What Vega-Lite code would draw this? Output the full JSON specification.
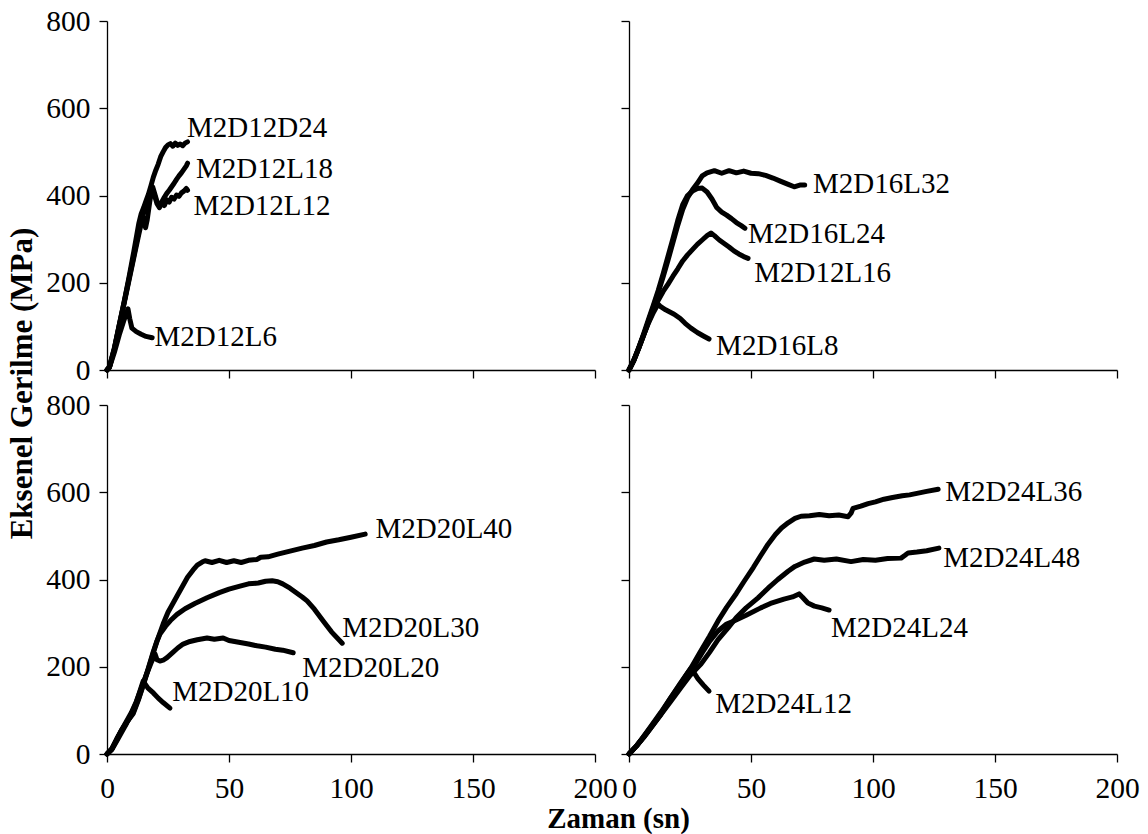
{
  "$schema": "https://vega.github.io/schema/vega-lite/v6.json",
  "padding": {"left": 6, "top": 6, "right": 5, "bottom": 5},
  "background": "white",
  "config": {
    "view": {"stroke": null},
    "axis": {
      "grid": false,
      "domainColor": "#000",
      "domainWidth": 1.3,
      "tickColor": "#000",
      "tickWidth": 1.3,
      "tickSize": 8,
      "labelFont": "Liberation Serif",
      "labelFontSize": 29.5,
      "labelColor": "#000",
      "labelFlush": false,
      "labelOverlap": false,
      "titleFont": "Liberation Serif",
      "titleFontWeight": "bold",
      "titleColor": "#000"
    }
  },
  "datasets": {
    "curves": [
      {"panel": "a", "series": "M2D12D24", "t": 0, "s": 0},
      {"panel": "a", "series": "M2D12D24", "t": 1, "s": 6},
      {"panel": "a", "series": "M2D12D24", "t": 3, "s": 48},
      {"panel": "a", "series": "M2D12D24", "t": 5, "s": 102},
      {"panel": "a", "series": "M2D12D24", "t": 7, "s": 155},
      {"panel": "a", "series": "M2D12D24", "t": 9, "s": 212},
      {"panel": "a", "series": "M2D12D24", "t": 11, "s": 272},
      {"panel": "a", "series": "M2D12D24", "t": 13, "s": 335},
      {"panel": "a", "series": "M2D12D24", "t": 14, "s": 358},
      {"panel": "a", "series": "M2D12D24", "t": 15, "s": 372},
      {"panel": "a", "series": "M2D12D24", "t": 16, "s": 388},
      {"panel": "a", "series": "M2D12D24", "t": 17, "s": 403},
      {"panel": "a", "series": "M2D12D24", "t": 18, "s": 422},
      {"panel": "a", "series": "M2D12D24", "t": 19, "s": 442},
      {"panel": "a", "series": "M2D12D24", "t": 20, "s": 458},
      {"panel": "a", "series": "M2D12D24", "t": 21, "s": 472},
      {"panel": "a", "series": "M2D12D24", "t": 22, "s": 489},
      {"panel": "a", "series": "M2D12D24", "t": 23, "s": 500},
      {"panel": "a", "series": "M2D12D24", "t": 24, "s": 510},
      {"panel": "a", "series": "M2D12D24", "t": 25, "s": 516},
      {"panel": "a", "series": "M2D12D24", "t": 26, "s": 519},
      {"panel": "a", "series": "M2D12D24", "t": 27, "s": 513},
      {"panel": "a", "series": "M2D12D24", "t": 28, "s": 520},
      {"panel": "a", "series": "M2D12D24", "t": 29, "s": 515},
      {"panel": "a", "series": "M2D12D24", "t": 30, "s": 518},
      {"panel": "a", "series": "M2D12D24", "t": 31, "s": 514},
      {"panel": "a", "series": "M2D12D24", "t": 32, "s": 520},
      {"panel": "a", "series": "M2D12D24", "t": 33, "s": 523},

      {"panel": "a", "series": "M2D12L18", "t": 0, "s": 0},
      {"panel": "a", "series": "M2D12L18", "t": 1, "s": 8},
      {"panel": "a", "series": "M2D12L18", "t": 3, "s": 50},
      {"panel": "a", "series": "M2D12L18", "t": 5, "s": 103},
      {"panel": "a", "series": "M2D12L18", "t": 7, "s": 155},
      {"panel": "a", "series": "M2D12L18", "t": 9, "s": 208},
      {"panel": "a", "series": "M2D12L18", "t": 11, "s": 262},
      {"panel": "a", "series": "M2D12L18", "t": 13, "s": 318},
      {"panel": "a", "series": "M2D12L18", "t": 14, "s": 343},
      {"panel": "a", "series": "M2D12L18", "t": 15, "s": 360},
      {"panel": "a", "series": "M2D12L18", "t": 16, "s": 378},
      {"panel": "a", "series": "M2D12L18", "t": 17, "s": 395},
      {"panel": "a", "series": "M2D12L18", "t": 18, "s": 410},
      {"panel": "a", "series": "M2D12L18", "t": 18.7, "s": 420},
      {"panel": "a", "series": "M2D12L18", "t": 19.5, "s": 405},
      {"panel": "a", "series": "M2D12L18", "t": 20.5, "s": 386},
      {"panel": "a", "series": "M2D12L18", "t": 21.5, "s": 376},
      {"panel": "a", "series": "M2D12L18", "t": 22.5, "s": 386},
      {"panel": "a", "series": "M2D12L18", "t": 23.5, "s": 396},
      {"panel": "a", "series": "M2D12L18", "t": 24.5, "s": 405},
      {"panel": "a", "series": "M2D12L18", "t": 25.5, "s": 412},
      {"panel": "a", "series": "M2D12L18", "t": 26.5, "s": 420},
      {"panel": "a", "series": "M2D12L18", "t": 27.5, "s": 428},
      {"panel": "a", "series": "M2D12L18", "t": 28.5, "s": 437},
      {"panel": "a", "series": "M2D12L18", "t": 29.5, "s": 445},
      {"panel": "a", "series": "M2D12L18", "t": 30.5, "s": 452},
      {"panel": "a", "series": "M2D12L18", "t": 31.5, "s": 460},
      {"panel": "a", "series": "M2D12L18", "t": 32.5, "s": 468},
      {"panel": "a", "series": "M2D12L18", "t": 33, "s": 474},

      {"panel": "a", "series": "M2D12L12", "t": 0, "s": 0},
      {"panel": "a", "series": "M2D12L12", "t": 1, "s": 6},
      {"panel": "a", "series": "M2D12L12", "t": 3, "s": 48},
      {"panel": "a", "series": "M2D12L12", "t": 5, "s": 100},
      {"panel": "a", "series": "M2D12L12", "t": 7, "s": 152},
      {"panel": "a", "series": "M2D12L12", "t": 9, "s": 205},
      {"panel": "a", "series": "M2D12L12", "t": 11, "s": 258},
      {"panel": "a", "series": "M2D12L12", "t": 13, "s": 310},
      {"panel": "a", "series": "M2D12L12", "t": 14, "s": 335},
      {"panel": "a", "series": "M2D12L12", "t": 15, "s": 348},
      {"panel": "a", "series": "M2D12L12", "t": 15.8, "s": 326},
      {"panel": "a", "series": "M2D12L12", "t": 16.5, "s": 345},
      {"panel": "a", "series": "M2D12L12", "t": 17.5, "s": 385},
      {"panel": "a", "series": "M2D12L12", "t": 18.5, "s": 418},
      {"panel": "a", "series": "M2D12L12", "t": 19.5, "s": 400},
      {"panel": "a", "series": "M2D12L12", "t": 20.5, "s": 381},
      {"panel": "a", "series": "M2D12L12", "t": 21.5, "s": 372},
      {"panel": "a", "series": "M2D12L12", "t": 22.5, "s": 383},
      {"panel": "a", "series": "M2D12L12", "t": 23.5, "s": 377},
      {"panel": "a", "series": "M2D12L12", "t": 24.5, "s": 390},
      {"panel": "a", "series": "M2D12L12", "t": 25.5, "s": 385},
      {"panel": "a", "series": "M2D12L12", "t": 26.5, "s": 396},
      {"panel": "a", "series": "M2D12L12", "t": 27.5, "s": 392},
      {"panel": "a", "series": "M2D12L12", "t": 28.5, "s": 401},
      {"panel": "a", "series": "M2D12L12", "t": 29.5, "s": 398},
      {"panel": "a", "series": "M2D12L12", "t": 30.5, "s": 406},
      {"panel": "a", "series": "M2D12L12", "t": 31.5, "s": 410},
      {"panel": "a", "series": "M2D12L12", "t": 32.5, "s": 416},
      {"panel": "a", "series": "M2D12L12", "t": 33, "s": 412},

      {"panel": "a", "series": "M2D12L6", "t": 0, "s": 0},
      {"panel": "a", "series": "M2D12L6", "t": 1, "s": 6},
      {"panel": "a", "series": "M2D12L6", "t": 3, "s": 40},
      {"panel": "a", "series": "M2D12L6", "t": 5, "s": 80},
      {"panel": "a", "series": "M2D12L6", "t": 7, "s": 115},
      {"panel": "a", "series": "M2D12L6", "t": 8.6, "s": 140},
      {"panel": "a", "series": "M2D12L6", "t": 9.3, "s": 118},
      {"panel": "a", "series": "M2D12L6", "t": 10.2, "s": 96},
      {"panel": "a", "series": "M2D12L6", "t": 12, "s": 88},
      {"panel": "a", "series": "M2D12L6", "t": 14, "s": 82},
      {"panel": "a", "series": "M2D12L6", "t": 16, "s": 77},
      {"panel": "a", "series": "M2D12L6", "t": 18.5, "s": 74},

      {"panel": "b", "series": "M2D16L32", "t": 0, "s": 0},
      {"panel": "b", "series": "M2D16L32", "t": 2, "s": 22},
      {"panel": "b", "series": "M2D16L32", "t": 4, "s": 50},
      {"panel": "b", "series": "M2D16L32", "t": 6, "s": 80},
      {"panel": "b", "series": "M2D16L32", "t": 8, "s": 112},
      {"panel": "b", "series": "M2D16L32", "t": 10, "s": 145},
      {"panel": "b", "series": "M2D16L32", "t": 12, "s": 178},
      {"panel": "b", "series": "M2D16L32", "t": 14, "s": 214},
      {"panel": "b", "series": "M2D16L32", "t": 16, "s": 252},
      {"panel": "b", "series": "M2D16L32", "t": 18, "s": 292},
      {"panel": "b", "series": "M2D16L32", "t": 20, "s": 332},
      {"panel": "b", "series": "M2D16L32", "t": 22, "s": 368},
      {"panel": "b", "series": "M2D16L32", "t": 24, "s": 395},
      {"panel": "b", "series": "M2D16L32", "t": 26, "s": 413},
      {"panel": "b", "series": "M2D16L32", "t": 28, "s": 428},
      {"panel": "b", "series": "M2D16L32", "t": 30, "s": 445},
      {"panel": "b", "series": "M2D16L32", "t": 32, "s": 452},
      {"panel": "b", "series": "M2D16L32", "t": 35, "s": 457},
      {"panel": "b", "series": "M2D16L32", "t": 38, "s": 451},
      {"panel": "b", "series": "M2D16L32", "t": 41, "s": 457},
      {"panel": "b", "series": "M2D16L32", "t": 44, "s": 452},
      {"panel": "b", "series": "M2D16L32", "t": 47, "s": 456},
      {"panel": "b", "series": "M2D16L32", "t": 50, "s": 451},
      {"panel": "b", "series": "M2D16L32", "t": 53, "s": 450},
      {"panel": "b", "series": "M2D16L32", "t": 56, "s": 446},
      {"panel": "b", "series": "M2D16L32", "t": 59, "s": 440},
      {"panel": "b", "series": "M2D16L32", "t": 62, "s": 433},
      {"panel": "b", "series": "M2D16L32", "t": 65, "s": 426},
      {"panel": "b", "series": "M2D16L32", "t": 67.7, "s": 420},
      {"panel": "b", "series": "M2D16L32", "t": 70, "s": 424},
      {"panel": "b", "series": "M2D16L32", "t": 72, "s": 424},

      {"panel": "b", "series": "M2D16L24", "t": 0, "s": 0},
      {"panel": "b", "series": "M2D16L24", "t": 2, "s": 23},
      {"panel": "b", "series": "M2D16L24", "t": 4, "s": 52},
      {"panel": "b", "series": "M2D16L24", "t": 6, "s": 83},
      {"panel": "b", "series": "M2D16L24", "t": 8, "s": 116},
      {"panel": "b", "series": "M2D16L24", "t": 10, "s": 149},
      {"panel": "b", "series": "M2D16L24", "t": 12, "s": 183},
      {"panel": "b", "series": "M2D16L24", "t": 14, "s": 221},
      {"panel": "b", "series": "M2D16L24", "t": 16, "s": 261},
      {"panel": "b", "series": "M2D16L24", "t": 18, "s": 301},
      {"panel": "b", "series": "M2D16L24", "t": 20, "s": 343},
      {"panel": "b", "series": "M2D16L24", "t": 22, "s": 379},
      {"panel": "b", "series": "M2D16L24", "t": 24, "s": 400},
      {"panel": "b", "series": "M2D16L24", "t": 26, "s": 410},
      {"panel": "b", "series": "M2D16L24", "t": 28, "s": 416},
      {"panel": "b", "series": "M2D16L24", "t": 30, "s": 417},
      {"panel": "b", "series": "M2D16L24", "t": 32, "s": 408},
      {"panel": "b", "series": "M2D16L24", "t": 34, "s": 392},
      {"panel": "b", "series": "M2D16L24", "t": 36, "s": 372},
      {"panel": "b", "series": "M2D16L24", "t": 38, "s": 362},
      {"panel": "b", "series": "M2D16L24", "t": 40, "s": 355},
      {"panel": "b", "series": "M2D16L24", "t": 42, "s": 347},
      {"panel": "b", "series": "M2D16L24", "t": 44, "s": 338},
      {"panel": "b", "series": "M2D16L24", "t": 46, "s": 331},
      {"panel": "b", "series": "M2D16L24", "t": 47.5, "s": 325},

      {"panel": "b", "series": "M2D12L16", "t": 0, "s": 0},
      {"panel": "b", "series": "M2D12L16", "t": 2, "s": 22},
      {"panel": "b", "series": "M2D12L16", "t": 4, "s": 50},
      {"panel": "b", "series": "M2D12L16", "t": 6, "s": 80},
      {"panel": "b", "series": "M2D12L16", "t": 8, "s": 110},
      {"panel": "b", "series": "M2D12L16", "t": 10, "s": 138},
      {"panel": "b", "series": "M2D12L16", "t": 12, "s": 160},
      {"panel": "b", "series": "M2D12L16", "t": 14, "s": 180},
      {"panel": "b", "series": "M2D12L16", "t": 16, "s": 197},
      {"panel": "b", "series": "M2D12L16", "t": 18, "s": 215},
      {"panel": "b", "series": "M2D12L16", "t": 20, "s": 232},
      {"panel": "b", "series": "M2D12L16", "t": 22, "s": 250},
      {"panel": "b", "series": "M2D12L16", "t": 24, "s": 264},
      {"panel": "b", "series": "M2D12L16", "t": 26, "s": 276},
      {"panel": "b", "series": "M2D12L16", "t": 28, "s": 288},
      {"panel": "b", "series": "M2D12L16", "t": 30, "s": 298},
      {"panel": "b", "series": "M2D12L16", "t": 32, "s": 308},
      {"panel": "b", "series": "M2D12L16", "t": 33.6, "s": 314},
      {"panel": "b", "series": "M2D12L16", "t": 35, "s": 308},
      {"panel": "b", "series": "M2D12L16", "t": 37, "s": 298},
      {"panel": "b", "series": "M2D12L16", "t": 39, "s": 290},
      {"panel": "b", "series": "M2D12L16", "t": 41, "s": 282},
      {"panel": "b", "series": "M2D12L16", "t": 43, "s": 273},
      {"panel": "b", "series": "M2D12L16", "t": 45, "s": 266},
      {"panel": "b", "series": "M2D12L16", "t": 47, "s": 260},
      {"panel": "b", "series": "M2D12L16", "t": 48.8, "s": 256},

      {"panel": "b", "series": "M2D16L8", "t": 0, "s": 0},
      {"panel": "b", "series": "M2D16L8", "t": 2, "s": 22},
      {"panel": "b", "series": "M2D16L8", "t": 4, "s": 50},
      {"panel": "b", "series": "M2D16L8", "t": 6, "s": 80},
      {"panel": "b", "series": "M2D16L8", "t": 8, "s": 108},
      {"panel": "b", "series": "M2D16L8", "t": 10, "s": 132},
      {"panel": "b", "series": "M2D16L8", "t": 11.9, "s": 151},
      {"panel": "b", "series": "M2D16L8", "t": 13, "s": 145},
      {"panel": "b", "series": "M2D16L8", "t": 15, "s": 138},
      {"panel": "b", "series": "M2D16L8", "t": 18.5, "s": 128},
      {"panel": "b", "series": "M2D16L8", "t": 21, "s": 118},
      {"panel": "b", "series": "M2D16L8", "t": 23, "s": 107},
      {"panel": "b", "series": "M2D16L8", "t": 25.4, "s": 96},
      {"panel": "b", "series": "M2D16L8", "t": 28, "s": 86},
      {"panel": "b", "series": "M2D16L8", "t": 30.5, "s": 78},
      {"panel": "b", "series": "M2D16L8", "t": 32.8, "s": 71},

      {"panel": "c", "series": "M2D20L40", "t": 0, "s": 0},
      {"panel": "c", "series": "M2D20L40", "t": 2, "s": 12},
      {"panel": "c", "series": "M2D20L40", "t": 4, "s": 35},
      {"panel": "c", "series": "M2D20L40", "t": 6, "s": 55},
      {"panel": "c", "series": "M2D20L40", "t": 8, "s": 72},
      {"panel": "c", "series": "M2D20L40", "t": 10.7, "s": 92},
      {"panel": "c", "series": "M2D20L40", "t": 13, "s": 126},
      {"panel": "c", "series": "M2D20L40", "t": 15, "s": 160},
      {"panel": "c", "series": "M2D20L40", "t": 17, "s": 196},
      {"panel": "c", "series": "M2D20L40", "t": 19, "s": 232},
      {"panel": "c", "series": "M2D20L40", "t": 20.5, "s": 259},
      {"panel": "c", "series": "M2D20L40", "t": 23, "s": 298},
      {"panel": "c", "series": "M2D20L40", "t": 25, "s": 325},
      {"panel": "c", "series": "M2D20L40", "t": 27, "s": 345},
      {"panel": "c", "series": "M2D20L40", "t": 28.7, "s": 362},
      {"panel": "c", "series": "M2D20L40", "t": 31, "s": 385},
      {"panel": "c", "series": "M2D20L40", "t": 33, "s": 405},
      {"panel": "c", "series": "M2D20L40", "t": 35.3, "s": 422},
      {"panel": "c", "series": "M2D20L40", "t": 37, "s": 433},
      {"panel": "c", "series": "M2D20L40", "t": 39, "s": 440},
      {"panel": "c", "series": "M2D20L40", "t": 40.2, "s": 443},
      {"panel": "c", "series": "M2D20L40", "t": 43, "s": 439},
      {"panel": "c", "series": "M2D20L40", "t": 46, "s": 444},
      {"panel": "c", "series": "M2D20L40", "t": 49, "s": 439},
      {"panel": "c", "series": "M2D20L40", "t": 52, "s": 443},
      {"panel": "c", "series": "M2D20L40", "t": 55, "s": 439},
      {"panel": "c", "series": "M2D20L40", "t": 58, "s": 444},
      {"panel": "c", "series": "M2D20L40", "t": 61.5, "s": 446},
      {"panel": "c", "series": "M2D20L40", "t": 63, "s": 451},
      {"panel": "c", "series": "M2D20L40", "t": 66, "s": 452},
      {"panel": "c", "series": "M2D20L40", "t": 70, "s": 458},
      {"panel": "c", "series": "M2D20L40", "t": 75, "s": 465},
      {"panel": "c", "series": "M2D20L40", "t": 80, "s": 472},
      {"panel": "c", "series": "M2D20L40", "t": 85, "s": 478},
      {"panel": "c", "series": "M2D20L40", "t": 90, "s": 486},
      {"panel": "c", "series": "M2D20L40", "t": 95, "s": 491},
      {"panel": "c", "series": "M2D20L40", "t": 100, "s": 497},
      {"panel": "c", "series": "M2D20L40", "t": 105.8, "s": 504},

      {"panel": "c", "series": "M2D20L30", "t": 0, "s": 0},
      {"panel": "c", "series": "M2D20L30", "t": 2, "s": 11},
      {"panel": "c", "series": "M2D20L30", "t": 4, "s": 33},
      {"panel": "c", "series": "M2D20L30", "t": 6, "s": 54},
      {"panel": "c", "series": "M2D20L30", "t": 8, "s": 72},
      {"panel": "c", "series": "M2D20L30", "t": 10.7, "s": 95},
      {"panel": "c", "series": "M2D20L30", "t": 13, "s": 128},
      {"panel": "c", "series": "M2D20L30", "t": 15, "s": 162},
      {"panel": "c", "series": "M2D20L30", "t": 17, "s": 198},
      {"panel": "c", "series": "M2D20L30", "t": 19, "s": 235},
      {"panel": "c", "series": "M2D20L30", "t": 20.3, "s": 256},
      {"panel": "c", "series": "M2D20L30", "t": 21.7, "s": 275},
      {"panel": "c", "series": "M2D20L30", "t": 24, "s": 293},
      {"panel": "c", "series": "M2D20L30", "t": 26, "s": 306},
      {"panel": "c", "series": "M2D20L30", "t": 28.7, "s": 320},
      {"panel": "c", "series": "M2D20L30", "t": 32, "s": 333},
      {"panel": "c", "series": "M2D20L30", "t": 36, "s": 345},
      {"panel": "c", "series": "M2D20L30", "t": 41, "s": 358},
      {"panel": "c", "series": "M2D20L30", "t": 46, "s": 370},
      {"panel": "c", "series": "M2D20L30", "t": 50, "s": 378},
      {"panel": "c", "series": "M2D20L30", "t": 54.5, "s": 385},
      {"panel": "c", "series": "M2D20L30", "t": 58, "s": 390},
      {"panel": "c", "series": "M2D20L30", "t": 62, "s": 392},
      {"panel": "c", "series": "M2D20L30", "t": 65, "s": 396},
      {"panel": "c", "series": "M2D20L30", "t": 67.7, "s": 397},
      {"panel": "c", "series": "M2D20L30", "t": 70, "s": 395},
      {"panel": "c", "series": "M2D20L30", "t": 72, "s": 390},
      {"panel": "c", "series": "M2D20L30", "t": 75, "s": 380},
      {"panel": "c", "series": "M2D20L30", "t": 78, "s": 368},
      {"panel": "c", "series": "M2D20L30", "t": 80, "s": 360},
      {"panel": "c", "series": "M2D20L30", "t": 82, "s": 351},
      {"panel": "c", "series": "M2D20L30", "t": 85, "s": 332},
      {"panel": "c", "series": "M2D20L30", "t": 88.6, "s": 305},
      {"panel": "c", "series": "M2D20L30", "t": 92, "s": 280},
      {"panel": "c", "series": "M2D20L30", "t": 96.4, "s": 254},

      {"panel": "c", "series": "M2D20L20", "t": 0, "s": 0},
      {"panel": "c", "series": "M2D20L20", "t": 2, "s": 12},
      {"panel": "c", "series": "M2D20L20", "t": 4, "s": 33},
      {"panel": "c", "series": "M2D20L20", "t": 6, "s": 55},
      {"panel": "c", "series": "M2D20L20", "t": 8, "s": 75},
      {"panel": "c", "series": "M2D20L20", "t": 10, "s": 95},
      {"panel": "c", "series": "M2D20L20", "t": 12, "s": 120},
      {"panel": "c", "series": "M2D20L20", "t": 14, "s": 150},
      {"panel": "c", "series": "M2D20L20", "t": 16, "s": 180},
      {"panel": "c", "series": "M2D20L20", "t": 18, "s": 208},
      {"panel": "c", "series": "M2D20L20", "t": 19.7, "s": 229},
      {"panel": "c", "series": "M2D20L20", "t": 20.5, "s": 216},
      {"panel": "c", "series": "M2D20L20", "t": 21.7, "s": 213},
      {"panel": "c", "series": "M2D20L20", "t": 23, "s": 215},
      {"panel": "c", "series": "M2D20L20", "t": 24.6, "s": 221},
      {"panel": "c", "series": "M2D20L20", "t": 27, "s": 233},
      {"panel": "c", "series": "M2D20L20", "t": 29, "s": 243},
      {"panel": "c", "series": "M2D20L20", "t": 31.2, "s": 252},
      {"panel": "c", "series": "M2D20L20", "t": 34, "s": 258},
      {"panel": "c", "series": "M2D20L20", "t": 37, "s": 262},
      {"panel": "c", "series": "M2D20L20", "t": 41, "s": 266},
      {"panel": "c", "series": "M2D20L20", "t": 44, "s": 263},
      {"panel": "c", "series": "M2D20L20", "t": 47.6, "s": 266},
      {"panel": "c", "series": "M2D20L20", "t": 50, "s": 260},
      {"panel": "c", "series": "M2D20L20", "t": 54, "s": 256},
      {"panel": "c", "series": "M2D20L20", "t": 58, "s": 252},
      {"panel": "c", "series": "M2D20L20", "t": 61.5, "s": 248},
      {"panel": "c", "series": "M2D20L20", "t": 65, "s": 245},
      {"panel": "c", "series": "M2D20L20", "t": 69, "s": 240},
      {"panel": "c", "series": "M2D20L20", "t": 72, "s": 238},
      {"panel": "c", "series": "M2D20L20", "t": 76.3, "s": 232},

      {"panel": "c", "series": "M2D20L10", "t": 0, "s": 0},
      {"panel": "c", "series": "M2D20L10", "t": 2, "s": 10},
      {"panel": "c", "series": "M2D20L10", "t": 4, "s": 30},
      {"panel": "c", "series": "M2D20L10", "t": 6, "s": 50},
      {"panel": "c", "series": "M2D20L10", "t": 8, "s": 70},
      {"panel": "c", "series": "M2D20L10", "t": 10, "s": 92},
      {"panel": "c", "series": "M2D20L10", "t": 12, "s": 118},
      {"panel": "c", "series": "M2D20L10", "t": 14.8, "s": 167},
      {"panel": "c", "series": "M2D20L10", "t": 16.8, "s": 151},
      {"panel": "c", "series": "M2D20L10", "t": 19, "s": 140},
      {"panel": "c", "series": "M2D20L10", "t": 21, "s": 128},
      {"panel": "c", "series": "M2D20L10", "t": 23, "s": 118},
      {"panel": "c", "series": "M2D20L10", "t": 25.8, "s": 105},

      {"panel": "d", "series": "M2D24L36", "t": 0, "s": 0},
      {"panel": "d", "series": "M2D24L36", "t": 3, "s": 18},
      {"panel": "d", "series": "M2D24L36", "t": 6, "s": 40},
      {"panel": "d", "series": "M2D24L36", "t": 9, "s": 62},
      {"panel": "d", "series": "M2D24L36", "t": 13, "s": 92},
      {"panel": "d", "series": "M2D24L36", "t": 17, "s": 128},
      {"panel": "d", "series": "M2D24L36", "t": 21, "s": 160},
      {"panel": "d", "series": "M2D24L36", "t": 25.4, "s": 197},
      {"panel": "d", "series": "M2D24L36", "t": 29, "s": 232},
      {"panel": "d", "series": "M2D24L36", "t": 33, "s": 270},
      {"panel": "d", "series": "M2D24L36", "t": 36.5, "s": 305},
      {"panel": "d", "series": "M2D24L36", "t": 40, "s": 336},
      {"panel": "d", "series": "M2D24L36", "t": 44, "s": 368},
      {"panel": "d", "series": "M2D24L36", "t": 47.2, "s": 396},
      {"panel": "d", "series": "M2D24L36", "t": 51, "s": 428},
      {"panel": "d", "series": "M2D24L36", "t": 54, "s": 455},
      {"panel": "d", "series": "M2D24L36", "t": 57, "s": 481},
      {"panel": "d", "series": "M2D24L36", "t": 60, "s": 503},
      {"panel": "d", "series": "M2D24L36", "t": 62.5, "s": 518},
      {"panel": "d", "series": "M2D24L36", "t": 65.2, "s": 530},
      {"panel": "d", "series": "M2D24L36", "t": 68, "s": 540},
      {"panel": "d", "series": "M2D24L36", "t": 70.5, "s": 545},
      {"panel": "d", "series": "M2D24L36", "t": 74, "s": 546},
      {"panel": "d", "series": "M2D24L36", "t": 78, "s": 549},
      {"panel": "d", "series": "M2D24L36", "t": 82, "s": 546},
      {"panel": "d", "series": "M2D24L36", "t": 86, "s": 548},
      {"panel": "d", "series": "M2D24L36", "t": 89.8, "s": 544},
      {"panel": "d", "series": "M2D24L36", "t": 91, "s": 552},
      {"panel": "d", "series": "M2D24L36", "t": 91.8, "s": 563},
      {"panel": "d", "series": "M2D24L36", "t": 95, "s": 568},
      {"panel": "d", "series": "M2D24L36", "t": 98, "s": 574},
      {"panel": "d", "series": "M2D24L36", "t": 101, "s": 578},
      {"panel": "d", "series": "M2D24L36", "t": 104.5, "s": 584},
      {"panel": "d", "series": "M2D24L36", "t": 108, "s": 588},
      {"panel": "d", "series": "M2D24L36", "t": 112, "s": 592},
      {"panel": "d", "series": "M2D24L36", "t": 115, "s": 594},
      {"panel": "d", "series": "M2D24L36", "t": 118.5, "s": 598},
      {"panel": "d", "series": "M2D24L36", "t": 122, "s": 602},
      {"panel": "d", "series": "M2D24L36", "t": 126.7, "s": 607},

      {"panel": "d", "series": "M2D24L48", "t": 0, "s": 0},
      {"panel": "d", "series": "M2D24L48", "t": 3, "s": 18},
      {"panel": "d", "series": "M2D24L48", "t": 6, "s": 38},
      {"panel": "d", "series": "M2D24L48", "t": 9, "s": 60},
      {"panel": "d", "series": "M2D24L48", "t": 13, "s": 90},
      {"panel": "d", "series": "M2D24L48", "t": 17, "s": 120},
      {"panel": "d", "series": "M2D24L48", "t": 21, "s": 150},
      {"panel": "d", "series": "M2D24L48", "t": 25, "s": 180},
      {"panel": "d", "series": "M2D24L48", "t": 29.5, "s": 206},
      {"panel": "d", "series": "M2D24L48", "t": 33, "s": 233},
      {"panel": "d", "series": "M2D24L48", "t": 36.5, "s": 262},
      {"panel": "d", "series": "M2D24L48", "t": 40.6, "s": 289},
      {"panel": "d", "series": "M2D24L48", "t": 44, "s": 313},
      {"panel": "d", "series": "M2D24L48", "t": 48, "s": 335},
      {"panel": "d", "series": "M2D24L48", "t": 52.9, "s": 358},
      {"panel": "d", "series": "M2D24L48", "t": 57, "s": 380},
      {"panel": "d", "series": "M2D24L48", "t": 61, "s": 400},
      {"panel": "d", "series": "M2D24L48", "t": 65.2, "s": 419},
      {"panel": "d", "series": "M2D24L48", "t": 68, "s": 430},
      {"panel": "d", "series": "M2D24L48", "t": 72, "s": 440},
      {"panel": "d", "series": "M2D24L48", "t": 75.9, "s": 447},
      {"panel": "d", "series": "M2D24L48", "t": 80, "s": 444},
      {"panel": "d", "series": "M2D24L48", "t": 85, "s": 447},
      {"panel": "d", "series": "M2D24L48", "t": 91, "s": 441},
      {"panel": "d", "series": "M2D24L48", "t": 96, "s": 446},
      {"panel": "d", "series": "M2D24L48", "t": 101, "s": 444},
      {"panel": "d", "series": "M2D24L48", "t": 106, "s": 448},
      {"panel": "d", "series": "M2D24L48", "t": 111.5, "s": 449},
      {"panel": "d", "series": "M2D24L48", "t": 113, "s": 455},
      {"panel": "d", "series": "M2D24L48", "t": 114.4, "s": 461},
      {"panel": "d", "series": "M2D24L48", "t": 118, "s": 463},
      {"panel": "d", "series": "M2D24L48", "t": 122, "s": 466},
      {"panel": "d", "series": "M2D24L48", "t": 127, "s": 472},

      {"panel": "d", "series": "M2D24L24", "t": 0, "s": 0},
      {"panel": "d", "series": "M2D24L24", "t": 3, "s": 18},
      {"panel": "d", "series": "M2D24L24", "t": 6, "s": 38},
      {"panel": "d", "series": "M2D24L24", "t": 9, "s": 60},
      {"panel": "d", "series": "M2D24L24", "t": 13, "s": 90},
      {"panel": "d", "series": "M2D24L24", "t": 17, "s": 125},
      {"panel": "d", "series": "M2D24L24", "t": 21, "s": 158},
      {"panel": "d", "series": "M2D24L24", "t": 24, "s": 185},
      {"panel": "d", "series": "M2D24L24", "t": 26.7, "s": 202},
      {"panel": "d", "series": "M2D24L24", "t": 30, "s": 232},
      {"panel": "d", "series": "M2D24L24", "t": 33, "s": 258},
      {"panel": "d", "series": "M2D24L24", "t": 36.5, "s": 282},
      {"panel": "d", "series": "M2D24L24", "t": 40, "s": 298},
      {"panel": "d", "series": "M2D24L24", "t": 43, "s": 305},
      {"panel": "d", "series": "M2D24L24", "t": 48, "s": 318},
      {"panel": "d", "series": "M2D24L24", "t": 54, "s": 335},
      {"panel": "d", "series": "M2D24L24", "t": 58, "s": 345},
      {"panel": "d", "series": "M2D24L24", "t": 63.5, "s": 355},
      {"panel": "d", "series": "M2D24L24", "t": 67, "s": 360},
      {"panel": "d", "series": "M2D24L24", "t": 69.7, "s": 367},
      {"panel": "d", "series": "M2D24L24", "t": 71, "s": 360},
      {"panel": "d", "series": "M2D24L24", "t": 73.3, "s": 346},
      {"panel": "d", "series": "M2D24L24", "t": 76, "s": 339},
      {"panel": "d", "series": "M2D24L24", "t": 79, "s": 335},
      {"panel": "d", "series": "M2D24L24", "t": 82, "s": 330},

      {"panel": "d", "series": "M2D24L12", "t": 0, "s": 0},
      {"panel": "d", "series": "M2D24L12", "t": 3, "s": 18},
      {"panel": "d", "series": "M2D24L12", "t": 6, "s": 40},
      {"panel": "d", "series": "M2D24L12", "t": 9, "s": 64},
      {"panel": "d", "series": "M2D24L12", "t": 13, "s": 95},
      {"panel": "d", "series": "M2D24L12", "t": 17, "s": 128},
      {"panel": "d", "series": "M2D24L12", "t": 21, "s": 162},
      {"panel": "d", "series": "M2D24L12", "t": 25.4, "s": 197},
      {"panel": "d", "series": "M2D24L12", "t": 26.5, "s": 188},
      {"panel": "d", "series": "M2D24L12", "t": 28.3, "s": 172},
      {"panel": "d", "series": "M2D24L12", "t": 30.5, "s": 158},
      {"panel": "d", "series": "M2D24L12", "t": 32.8, "s": 144}
    ],
    "labels": [
      {"panel": "a", "series": "M2D12D24", "t": 32.8, "s": 554},
      {"panel": "a", "series": "M2D12L18", "t": 36.5, "s": 460},
      {"panel": "a", "series": "M2D12L12", "t": 35.5, "s": 375},
      {"panel": "a", "series": "M2D12L6", "t": 19.5, "s": 76},
      {"panel": "b", "series": "M2D16L32", "t": 75.4, "s": 426},
      {"panel": "b", "series": "M2D16L24", "t": 48.8, "s": 312},
      {"panel": "b", "series": "M2D12L16", "t": 51.3, "s": 222},
      {"panel": "b", "series": "M2D16L8", "t": 35.7, "s": 55},
      {"panel": "c", "series": "M2D20L40", "t": 110, "s": 516},
      {"panel": "c", "series": "M2D20L30", "t": 96.4, "s": 289},
      {"panel": "c", "series": "M2D20L20", "t": 80, "s": 197},
      {"panel": "c", "series": "M2D20L10", "t": 26.7, "s": 142},
      {"panel": "d", "series": "M2D24L36", "t": 129.6, "s": 600},
      {"panel": "d", "series": "M2D24L48", "t": 128.8, "s": 449},
      {"panel": "d", "series": "M2D24L24", "t": 82.8, "s": 289},
      {"panel": "d", "series": "M2D24L12", "t": 35.3, "s": 115}
    ]
  },
  "columns": 2,
  "spacing": {"row": 35, "column": 34},
  "bounds": "flush",
  "concat": [
    {
      "width": 488,
      "height": 349,
      "encoding": {
        "x": {"field": "t", "type": "quantitative", "scale": {"domain": [0, 200], "nice": false},
              "axis": {"values": [0, 50, 100, 150, 200], "labels": false, "title": null}},
        "y": {"field": "s", "type": "quantitative", "scale": {"domain": [0, 800], "nice": false},
              "axis": {"values": [0, 200, 400, 600, 800], "labelPadding": 9, "title": "Eksenel Gerilme (MPa)",
                       "titleFontSize": 31, "titleX": -85, "titleY": 362, "titleAngle": 270, "titleBaseline": "middle", "titleAlign": "center"}}
      },
      "layer": [
        {"data": {"name": "curves"}, "transform": [{"filter": "datum.panel == 'a'"}],
         "mark": {"type": "line", "color": "#000", "strokeWidth": 5, "strokeJoin": "round", "strokeCap": "round"},
         "encoding": {"detail": {"field": "series"}}},
        {"data": {"name": "labels"}, "transform": [{"filter": "datum.panel == 'a'"}],
         "mark": {"type": "text", "align": "left", "baseline": "middle", "font": "Liberation Serif", "fontSize": 29, "color": "#000"},
         "encoding": {"text": {"field": "series"}}}
      ]
    },
    {
      "width": 488,
      "height": 349,
      "encoding": {
        "x": {"field": "t", "type": "quantitative", "scale": {"domain": [0, 200], "nice": false},
              "axis": {"values": [0, 50, 100, 150, 200], "labels": false, "title": null}},
        "y": {"field": "s", "type": "quantitative", "scale": {"domain": [0, 800], "nice": false},
              "axis": {"values": [0, 200, 400, 600, 800], "labels": false, "title": null}}
      },
      "layer": [
        {"data": {"name": "curves"}, "transform": [{"filter": "datum.panel == 'b'"}],
         "mark": {"type": "line", "color": "#000", "strokeWidth": 5, "strokeJoin": "round", "strokeCap": "round"},
         "encoding": {"detail": {"field": "series"}}},
        {"data": {"name": "labels"}, "transform": [{"filter": "datum.panel == 'b'"}],
         "mark": {"type": "text", "align": "left", "baseline": "middle", "font": "Liberation Serif", "fontSize": 29, "color": "#000"},
         "encoding": {"text": {"field": "series"}}}
      ]
    },
    {
      "width": 488,
      "height": 349,
      "encoding": {
        "x": {"field": "t", "type": "quantitative", "scale": {"domain": [0, 200], "nice": false},
              "axis": {"values": [0, 50, 100, 150, 200], "labelPadding": 12, "title": "Zaman (sn)",
                       "titleFontSize": 29, "titleX": 511, "titleY": 50, "titleAlign": "center", "titleBaseline": "top"}},
        "y": {"field": "s", "type": "quantitative", "scale": {"domain": [0, 800], "nice": false},
              "axis": {"values": [0, 200, 400, 600, 800], "labelPadding": 9, "title": null}}
      },
      "layer": [
        {"data": {"name": "curves"}, "transform": [{"filter": "datum.panel == 'c'"}],
         "mark": {"type": "line", "color": "#000", "strokeWidth": 5, "strokeJoin": "round", "strokeCap": "round"},
         "encoding": {"detail": {"field": "series"}}},
        {"data": {"name": "labels"}, "transform": [{"filter": "datum.panel == 'c'"}],
         "mark": {"type": "text", "align": "left", "baseline": "middle", "font": "Liberation Serif", "fontSize": 29, "color": "#000"},
         "encoding": {"text": {"field": "series"}}}
      ]
    },
    {
      "width": 488,
      "height": 349,
      "encoding": {
        "x": {"field": "t", "type": "quantitative", "scale": {"domain": [0, 200], "nice": false},
              "axis": {"values": [0, 50, 100, 150, 200], "labelPadding": 12, "title": null}},
        "y": {"field": "s", "type": "quantitative", "scale": {"domain": [0, 800], "nice": false},
              "axis": {"values": [0, 200, 400, 600, 800], "labels": false, "title": null}}
      },
      "layer": [
        {"data": {"name": "curves"}, "transform": [{"filter": "datum.panel == 'd'"}],
         "mark": {"type": "line", "color": "#000", "strokeWidth": 5, "strokeJoin": "round", "strokeCap": "round"},
         "encoding": {"detail": {"field": "series"}}},
        {"data": {"name": "labels"}, "transform": [{"filter": "datum.panel == 'd'"}],
         "mark": {"type": "text", "align": "left", "baseline": "middle", "font": "Liberation Serif", "fontSize": 29, "color": "#000"},
         "encoding": {"text": {"field": "series"}}}
      ]
    }
  ]
}
